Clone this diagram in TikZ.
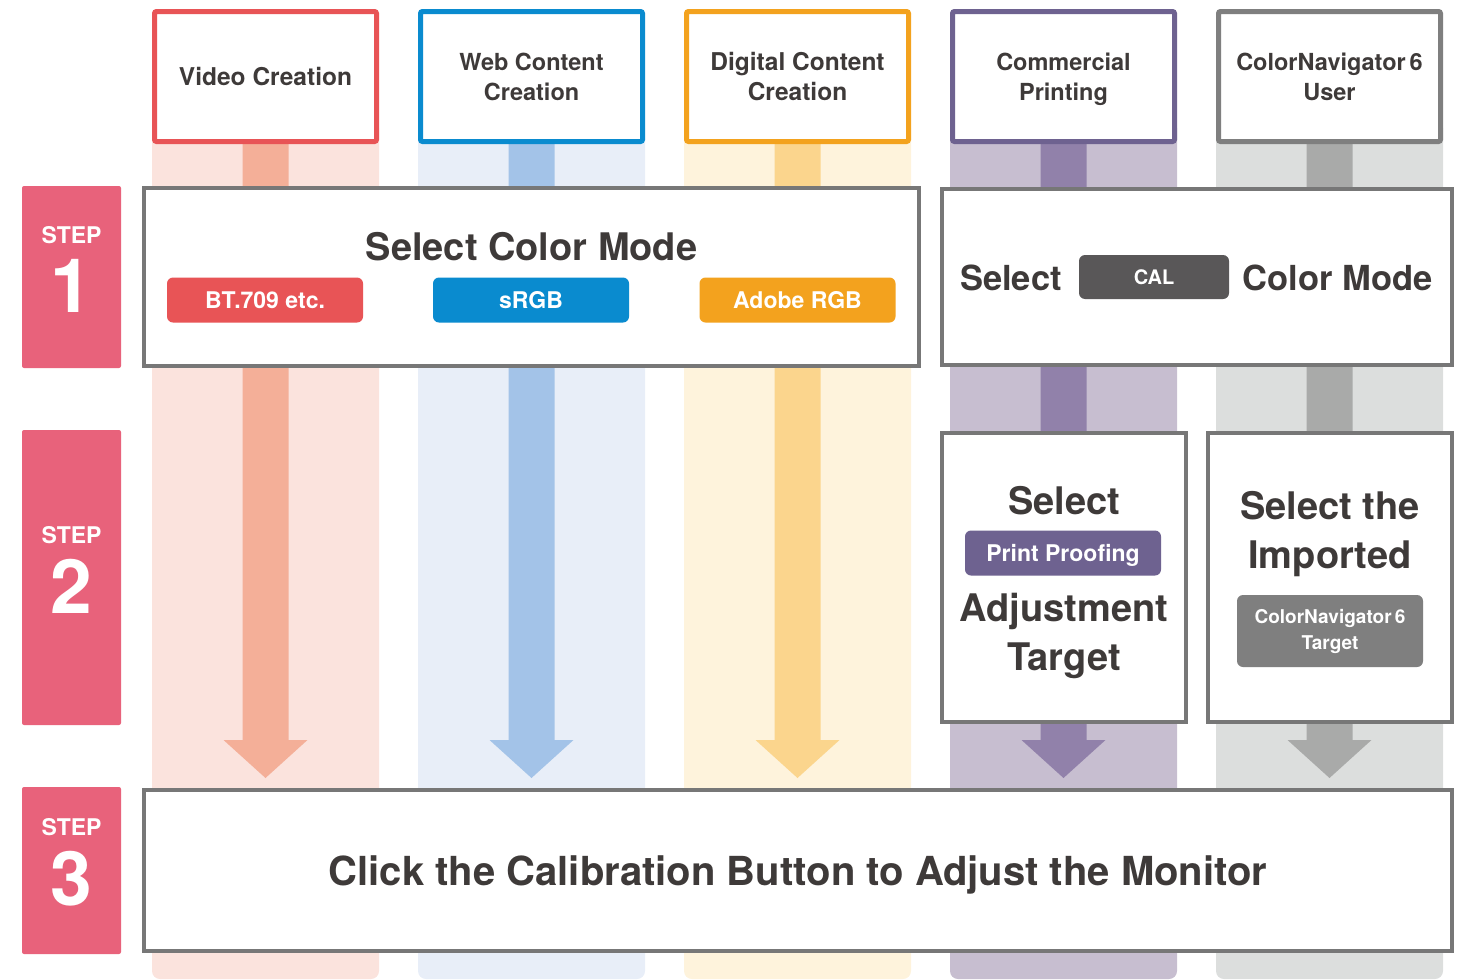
\documentclass[tikz,border=0pt]{standalone}
\usepackage{fontspec}
\setmainfont{TeX Gyre Heros}
\definecolor{stepC}{HTML}{E8627B}
\definecolor{redC}{HTML}{E85456}
\definecolor{bandR}{HTML}{FBE3DD}
\definecolor{stemR}{HTML}{F4AF98}
\definecolor{blueC}{HTML}{0A8BCF}
\definecolor{bandB}{HTML}{E8EEF8}
\definecolor{stemB}{HTML}{A3C3E8}
\definecolor{orangeC}{HTML}{F3A21E}
\definecolor{bandO}{HTML}{FEF3DC}
\definecolor{stemO}{HTML}{FBD58D}
\definecolor{purpleC}{HTML}{6E6290}
\definecolor{bandP}{HTML}{C7BED0}
\definecolor{stemP}{HTML}{9181AA}
\definecolor{grayC}{HTML}{7F7F7F}
\definecolor{bandG}{HTML}{DCDEDD}
\definecolor{stemG}{HTML}{A9AAA9}
\definecolor{boxline}{HTML}{777777}
\definecolor{txt}{HTML}{3E3A39}
\definecolor{calC}{HTML}{595758}
\newcommand\lanedraw[3]{%
  \fill[#2, rounded corners=8pt] (#1,120) rectangle ++(227,859);
  \fill[#3] ({#1+90.5},130) -- ({#1+136.5},130) -- ({#1+136.5},740) -- ({#1+155.5},740)
     -- ({#1+113.5},778) -- ({#1+71.5},740) -- ({#1+90.5},740) -- cycle;
}
\newcommand\hs{\rule[-6pt]{0pt}{29pt}}
\tikzset{
  hdr/.style={draw, line width=5pt, fill=white, minimum width=222pt, minimum height=130pt,
    rounded corners=2pt, align=center, text=txt, font=\fontsize{23.5}{30}\selectfont\bfseries, inner sep=0pt},
  mainbox/.style={draw=boxline, line width=4pt, fill=white, inner sep=0pt},
  pill/.style={rounded corners=6pt, text=white, font=\fontsize{23}{26}\selectfont\bfseries,
    inner sep=0pt, minimum height=45pt, minimum width=196pt, text height=16.5pt, text depth=0pt},
  big/.style={text=txt, font=\fontsize{38}{38}\selectfont\bfseries, anchor=base, inner sep=0pt},
  mid/.style={text=txt, font=\fontsize{34.5}{34}\selectfont\bfseries, anchor=base, inner sep=0pt},
  stepbox/.style={fill=stepC, rounded corners=2pt, minimum width=99pt, inner sep=0pt},
  steplbl/.style={text=white, font=\fontsize{23}{23}\selectfont\bfseries, anchor=base, inner sep=0pt},
  stepnum/.style={text=white, font=\fontsize{75}{75}\selectfont\bfseries, anchor=base, inner sep=0pt},
}
\begin{document}
\begin{tikzpicture}[x=1pt,y=-1pt]
\useasboundingbox (0,0) rectangle (1465,980);
% lanes with arrows
\lanedraw{152}{bandR}{stemR}
\lanedraw{418}{bandB}{stemB}
\lanedraw{684}{bandO}{stemO}
\lanedraw{950}{bandP}{stemP}
\lanedraw{1216}{bandG}{stemG}
% header boxes
\node[hdr, draw=redC, font=\fontsize{24.5}{30}\selectfont\bfseries] (h1) at (265.5,76.5) {Video Creation\hs};
\node[hdr, draw=blueC] (h2) at (531.5,76.5) {Web Content\hs\\Creation\hs};
\node[hdr, draw=orangeC, font=\fontsize{24.5}{30}\selectfont\bfseries] (h3) at (797.5,76.5) {Digital Content\hs\\Creation\hs};
\node[hdr, draw=purpleC] (h4) at (1063.5,76.5) {Commercial\hs\\Printing\hs};
\node[hdr, draw=grayC] (h5) at (1329.5,76.5) {ColorNavigator\,6\hs\\User\hs};
% step labels
\node[stepbox, minimum height=182pt] (s1) at (71.5,277) {};
\node[steplbl] (s1a) at (71.5,243) {STEP};
\node[stepnum] (s1b) at (71.5,312) {1};
\node[stepbox, minimum height=295pt] (s2) at (71.5,577.5) {};
\node[steplbl] (s2a) at (71.5,543) {STEP};
\node[stepnum] (s2b) at (71.5,613) {2};
\node[stepbox, minimum height=167pt] (s3) at (71.5,870.5) {};
\node[steplbl] (s3a) at (71.5,835) {STEP};
\node[stepnum] (s3b) at (71.5,905) {3};
% step 1
\node[mainbox, minimum width=775pt, minimum height=178pt] (m1) at (531.5,277) {};
\node[big] (t1) at (531.5,260) {Select Color Mode};
\node[pill, fill=redC] (p1) at (265,300) {BT.709 etc.};
\node[pill, fill=blueC] (p2) at (531,300) {sRGB};
\node[pill, fill=orangeC] (p3) at (797.5,300) {Adobe RGB};
\node[mainbox, minimum width=510pt, minimum height=176pt] (m1r) at (1197,277) {};
\node[mid] (t1a) at (1011,290) {Select};
\node[pill, fill=calC, minimum width=150pt, minimum height=44pt, text height=14.5pt, font=\fontsize{20}{24}\selectfont\bfseries] (cal) at (1154,277) {CAL};
\node[mid] (t1b) at (1337.5,290) {Color Mode};
% step 2
\node[mainbox, minimum width=244pt, minimum height=289pt] (m2l) at (1064,577.5) {};
\node[big] (t2a) at (1064,514) {Select};
\node[pill, fill=purpleC] (pp) at (1063,553) {Print Proofing};
\node[big] (t2b) at (1064,621) {Adjustment};
\node[big] (t2c) at (1064,670) {Target};
\node[mainbox, minimum width=244pt, minimum height=289pt] (m2r) at (1330,577.5) {};
\node[big] (t2d) at (1330,519) {Select the};
\node[big] (t2e) at (1330,568) {Imported};
\node[rounded corners=6pt, fill=grayC, text=white, inner sep=0pt, minimum width=186pt, minimum height=72pt, align=center, font=\fontsize{19}{26}\selectfont\bfseries] (cn) at (1330,631) {ColorNavigator\,6\\Target};
% step 3
\node[mainbox, minimum width=1308pt, minimum height=161pt] (m3) at (798,870.5) {};
\node[big, font=\fontsize{40}{40}\selectfont\bfseries] (t3) at (798,885) {Click the Calibration Button to Adjust the Monitor};
\end{tikzpicture}
\end{document}
